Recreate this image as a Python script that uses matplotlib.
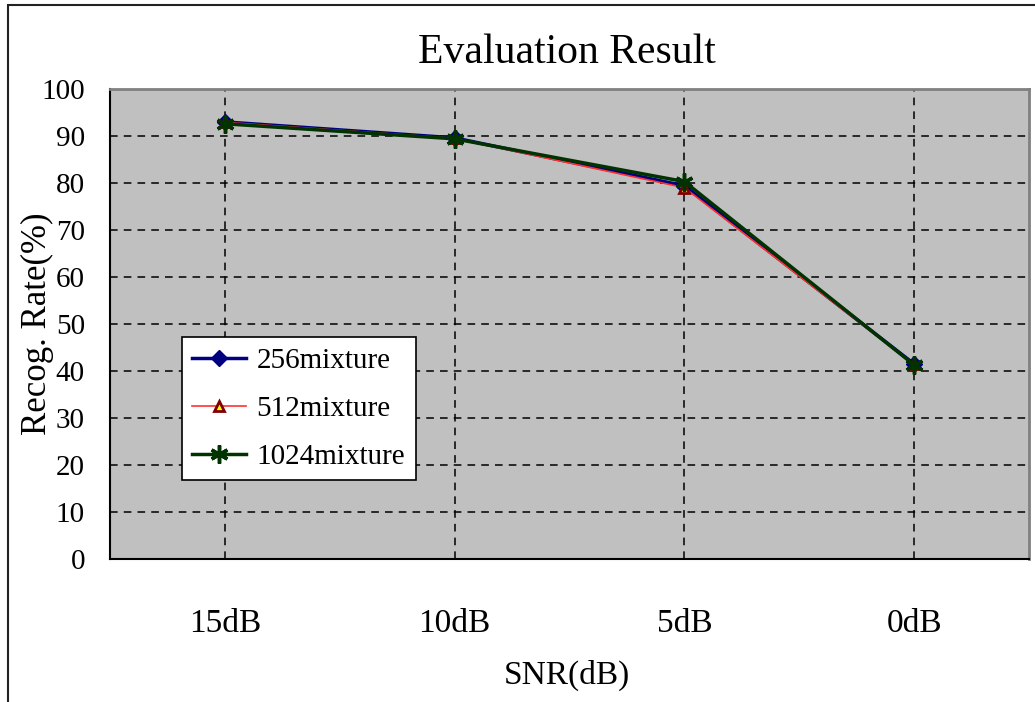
import matplotlib.pyplot as plt
from matplotlib.patches import Rectangle

# SNR conditions and recognition rates (%) for each mixture count
snr = ["15dB", "10dB", "5dB", "0dB"]
rate_256 = [93.0, 89.6, 79.4, 41.5]
rate_512 = [92.9, 89.5, 79.0, 41.4]
rate_1024 = [92.6, 89.4, 80.3, 41.3]

plt.rcParams["font.family"] = ["Liberation Serif", "DejaVu Serif"]

fig = plt.figure(figsize=(10.35, 7.02), dpi=100)
ax = fig.add_axes([110 / 1035, 1 - 559 / 702, 919 / 1035, 470 / 702])
ax.set_facecolor("#c0c0c0")

# outer chart frame
fig.patches.append(Rectangle((8 / 1035, -0.1), 1.2, 1.1 - 5 / 702,
                             transform=fig.transFigure, fill=False,
                             edgecolor="#222222", linewidth=1.5))

x = list(range(len(snr)))

# lines
ax.plot(x, rate_256, color="#000080", linewidth=2.5, marker="D", markersize=8,
        markerfacecolor="#000080", markeredgecolor="#000080", label="256mixture")
ax.plot(x, rate_512, color="#ff3030", linewidth=1.2, marker="^", markersize=7,
        markerfacecolor="#ffff00", markeredgecolor="#800000", markeredgewidth=2,
        label="512mixture")
ax.plot(x, rate_1024, color="#003300", linewidth=2.5, marker=(6, 2, 0), markersize=13,
        markeredgecolor="#003300", markeredgewidth=2.5, label="1024mixture")

ax.set_xlim(-0.5, len(snr) - 0.5)
ax.set_ylim(0, 100)
ax.set_yticks(range(0, 101, 10))
ax.set_xticks(x)
ax.set_xticklabels(snr)

# grid
ax.grid(True, linestyle=(0, (5, 4)), linewidth=1.1, color="black")
ax.set_axisbelow(True)

ax.tick_params(axis="y", length=0, pad=18, labelsize=21)
ax.tick_params(axis="x", length=0, pad=36, labelsize=24)

for side in ["top", "right"]:
    ax.spines[side].set_color("#808080")
    ax.spines[side].set_linewidth(2)
for side in ["left", "bottom"]:
    ax.spines[side].set_color("black")
    ax.spines[side].set_linewidth(1.5)

# labels
fig.text(567 / 1035, 1 - 63 / 702, "Evaluation Result", fontsize=30,
         ha="center", va="baseline")
ax.set_xlabel("SNR(dB)", fontsize=24)
ax.xaxis.set_label_coords(0.497, -0.215)
ax.set_ylabel("Recog. Rate(%)", fontsize=25)
ax.yaxis.set_label_coords(-0.061, 0.5)

# legend
leg = ax.legend(loc="lower left", bbox_to_anchor=(72 / 919, 79 / 470),
                fontsize=21, frameon=True, fancybox=False, framealpha=1,
                borderpad=0.35, labelspacing=0.74, handlelength=1.86,
                handletextpad=0.35, borderaxespad=0)
leg.get_frame().set_edgecolor("black")
leg.get_frame().set_linewidth(1.2)

fig.savefig("out.png", dpi=100)
